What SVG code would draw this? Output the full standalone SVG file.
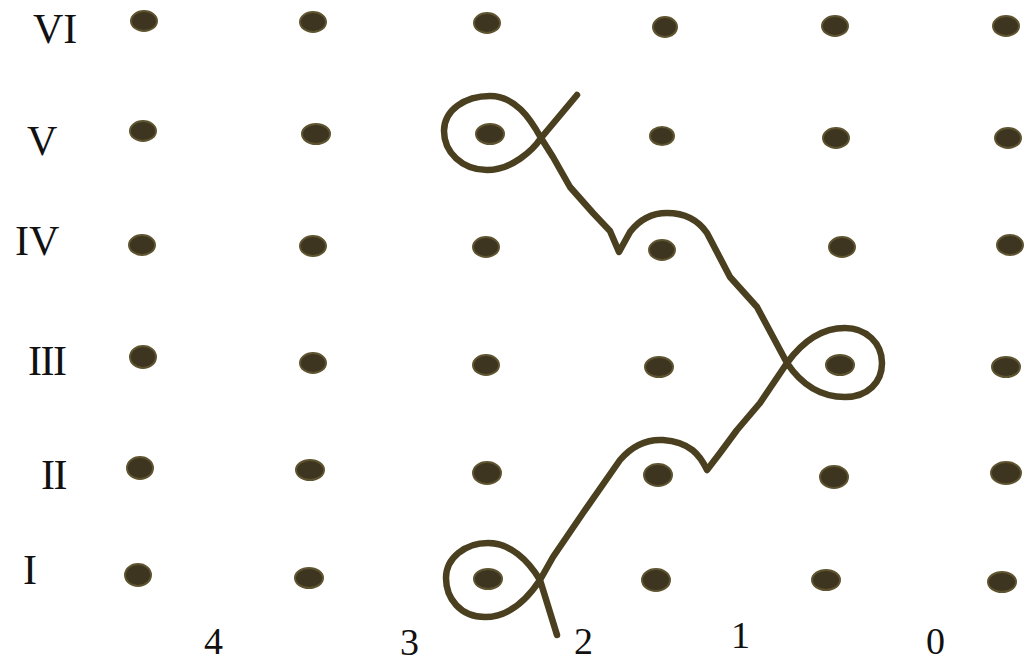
<svg xmlns="http://www.w3.org/2000/svg" width="1024" height="664" viewBox="0 0 1024 664">
<style>
.dot{fill:#3e3521;stroke:#5e5430;stroke-width:2}
.lbl{font-family:"Liberation Serif","Times New Roman",serif;font-size:42px;fill:#111}
.num{font-family:"Liberation Serif","Times New Roman",serif;font-size:38px;fill:#111}
.ink{fill:none;stroke:#4a4020;stroke-width:6.5;stroke-linejoin:round;stroke-linecap:round}
</style>
<rect width="1024" height="664" fill="#ffffff"/>
<g id="row-labels">
<text class="lbl" x="33" y="43">VI</text>
<text class="lbl" x="27" y="155">V</text>
<text class="lbl" x="15" y="255">IV</text>
<text class="lbl" x="28" y="375" letter-spacing="-1.5">III</text>
<text class="lbl" x="41" y="489" letter-spacing="-1.5">II</text>
<text class="lbl" x="23" y="584">I</text>
</g>
<g id="col-labels">
<text class="num" x="204" y="654">4</text>
<text class="num" x="400" y="655">3</text>
<text class="num" x="574" y="654">2</text>
<text class="num" x="731" y="648">1</text>
<text class="num" x="926" y="654">0</text>
</g>
<g id="row-VI">
<ellipse class="dot" cx="144" cy="21" rx="13" ry="10"/>
<ellipse class="dot" cx="313" cy="22" rx="13" ry="10"/>
<ellipse class="dot" cx="487" cy="23" rx="13" ry="10"/>
<ellipse class="dot" cx="665" cy="27" rx="12" ry="10"/>
<ellipse class="dot" cx="835" cy="26" rx="13" ry="10"/>
<ellipse class="dot" cx="1006" cy="26" rx="13" ry="10"/>
</g>
<g id="row-V">
<ellipse class="dot" cx="143" cy="131" rx="13" ry="10"/>
<ellipse class="dot" cx="316" cy="134" rx="14" ry="10"/>
<ellipse class="dot" cx="490" cy="134" rx="14" ry="10"/>
<ellipse class="dot" cx="662" cy="136" rx="12" ry="9"/>
<ellipse class="dot" cx="836" cy="138" rx="13" ry="10"/>
<ellipse class="dot" cx="1008" cy="138" rx="13" ry="10"/>
</g>
<g id="row-IV">
<ellipse class="dot" cx="142" cy="245" rx="13" ry="10"/>
<ellipse class="dot" cx="313" cy="246" rx="13" ry="10"/>
<ellipse class="dot" cx="486" cy="247" rx="13" ry="10"/>
<ellipse class="dot" cx="662" cy="250" rx="13" ry="10"/>
<ellipse class="dot" cx="842" cy="247" rx="13" ry="10"/>
<ellipse class="dot" cx="1010" cy="245" rx="13" ry="10"/>
</g>
<g id="row-III">
<ellipse class="dot" cx="143" cy="357" rx="13" ry="11"/>
<ellipse class="dot" cx="313" cy="363" rx="13" ry="10"/>
<ellipse class="dot" cx="486" cy="365" rx="13" ry="10"/>
<ellipse class="dot" cx="659" cy="367" rx="14" ry="10"/>
<ellipse class="dot" cx="840" cy="365" rx="14" ry="10"/>
<ellipse class="dot" cx="1006" cy="367" rx="14" ry="10"/>
</g>
<g id="row-II">
<ellipse class="dot" cx="140" cy="468" rx="13" ry="11"/>
<ellipse class="dot" cx="310" cy="470" rx="14" ry="10"/>
<ellipse class="dot" cx="487" cy="473" rx="14" ry="11"/>
<ellipse class="dot" cx="658" cy="475" rx="14" ry="11"/>
<ellipse class="dot" cx="834" cy="477" rx="14" ry="11"/>
<ellipse class="dot" cx="1006" cy="473" rx="15" ry="11"/>
</g>
<g id="row-I">
<ellipse class="dot" cx="138" cy="575" rx="13" ry="11"/>
<ellipse class="dot" cx="309" cy="578" rx="14" ry="10"/>
<ellipse class="dot" cx="488" cy="579" rx="14" ry="10"/>
<ellipse class="dot" cx="656" cy="580" rx="14" ry="11"/>
<ellipse class="dot" cx="826" cy="580" rx="14" ry="10"/>
<ellipse class="dot" cx="1002" cy="582" rx="14" ry="10"/>
</g>
<g id="connectors">
<path class="ink" d="M577,95 L541,138 C533,150 512,170 487,170 C462,170 444,152 444,131 C444,110 465,96 490,96 C515,96 530,118 541,138 L553,157 L570,187 L593,213 L610,231 L619,252 L630,232 C640,219 652,213 667,213 C685,213 698,220 707,233 L730,277 L757,307 L787,363 C797,378 815,397 845,397 C868,397 882,382 882,363 C882,343 866,328 845,328 C818,328 800,345 787,363 L760,403 L737,430 L720,453 L707,470 C700,455 690,442 663,440 C645,439 632,446 620,460 L583,513 L553,557 L540,580 C530,595 512,617 485,617 C460,617 446,598 446,578 C446,558 465,543 488,543 C510,543 528,560 540,580 L557,635"/>
</g>
</svg>
